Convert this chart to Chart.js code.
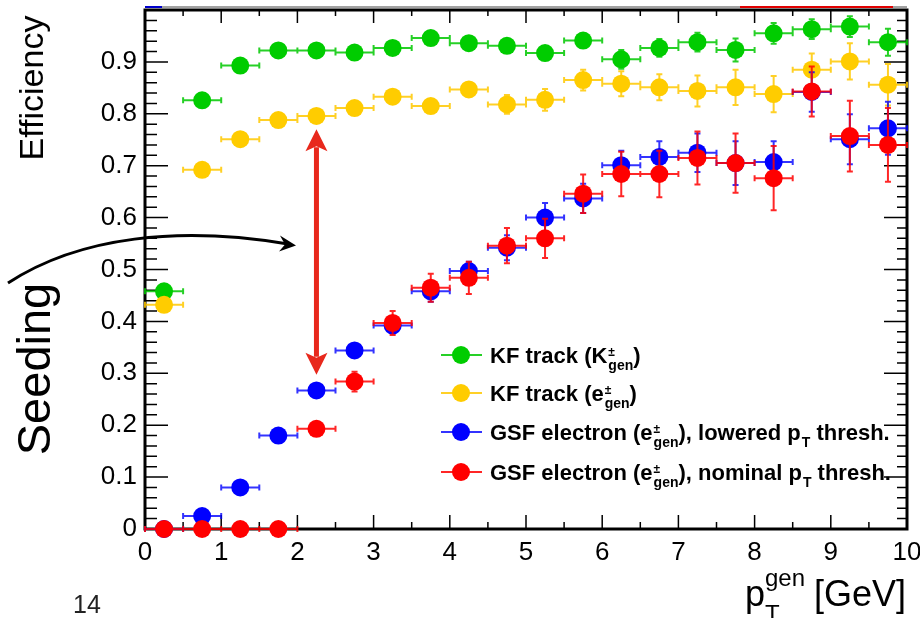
<!DOCTYPE html>
<html>
<head>
<meta charset="utf-8">
<title>Seeding efficiency</title>
<script src="https://cdn.jsdelivr.net/npm/chart.js@4.4.1/dist/chart.umd.min.js"></script>
<style>
  html, body { margin: 0; padding: 0; background: #fff; }
  #wrap { width: 920px; height: 618px; }
</style>
</head>
<body>
<div id="wrap"><canvas id="chartSeeding" width="920" height="618"></canvas></div>
<script>
// pT bins (GeV): centres and half width
const binCenters = [0.25, 0.75, 1.25, 1.75, 2.25, 2.75, 3.25, 3.75, 4.25, 4.75,
                    5.25, 5.75, 6.25, 6.75, 7.25, 7.75, 8.25, 8.75, 9.25, 9.75];
const binHalfWidth = 0.25;

// KF track, kaons
const kfKaon    = [0.458, 0.826, 0.893, 0.922, 0.922, 0.918, 0.927, 0.946, 0.936, 0.931,
                   0.917, 0.941, 0.905, 0.927, 0.938, 0.923, 0.955, 0.963, 0.968, 0.938];
const kfKaonErr = [0.004, 0.003, 0.003, 0.003, 0.003, 0.003, 0.004, 0.005, 0.006, 0.008,
                   0.010, 0.010, 0.018, 0.017, 0.018, 0.022, 0.020, 0.019, 0.020, 0.026];

// KF track, electrons
const kfElec    = [0.432, 0.692, 0.751, 0.788, 0.796, 0.811, 0.833, 0.815, 0.847, 0.818,
                   0.827, 0.865, 0.858, 0.851, 0.844, 0.851, 0.838, 0.885, 0.901, 0.856];
const kfElecErr = [0.004, 0.004, 0.004, 0.005, 0.005, 0.006, 0.007, 0.009, 0.012, 0.018,
                   0.021, 0.020, 0.024, 0.025, 0.030, 0.034, 0.035, 0.031, 0.035, 0.040];

// GSF electron, lowered pT threshold
const gsfLow    = [0.000, 0.025, 0.080, 0.180, 0.267, 0.344, 0.392, 0.458, 0.497, 0.542,
                   0.600, 0.637, 0.701, 0.717, 0.725, 0.705, 0.707, 0.842, 0.751, 0.772];
const gsfLowErr = [0.000, 0.004, 0.006, 0.008, 0.010, 0.012, 0.015, 0.020, 0.018, 0.024,
                   0.028, 0.028, 0.028, 0.030, 0.037, 0.042, 0.040, 0.038, 0.048, 0.051];

// GSF electron, nominal pT threshold
const gsfNom    = [0.000, 0.000, 0.000, 0.000, 0.193, 0.284, 0.397, 0.465, 0.484, 0.546,
                   0.560, 0.646, 0.684, 0.684, 0.715, 0.705, 0.676, 0.843, 0.757, 0.740];
const gsfNomErr = [0.000, 0.000, 0.000, 0.000, 0.008, 0.019, 0.023, 0.027, 0.031, 0.034,
                   0.038, 0.037, 0.043, 0.045, 0.051, 0.057, 0.062, 0.048, 0.068, 0.071];

// axis ticks
const xMajorTicks = [0, 1, 2, 3, 4, 5, 6, 7, 8, 9, 10];
const yMajorTicks = [0, 0.1, 0.2, 0.3, 0.4, 0.5, 0.6, 0.7, 0.8, 0.9];

// legend labels: plain strings, {sup, sub} for the particle index
const legendLabels = [
  ['KF track (K', { sup: '±', sub: 'gen' }, ')'],
  ['KF track (e', { sup: '±', sub: 'gen' }, ')'],
  ['GSF electron (e', { sup: '±', sub: 'gen' }, '), lowered p', { sub: 'T' }, ' thresh.'],
  ['GSF electron (e', { sup: '±', sub: 'gen' }, '), nominal p', { sub: 'T' }, ' thresh.']
];

// arrow showing the gain at 2.25 GeV
const gapArrowX = 2.25;
const gapArrowTop = 0.770;
const gapArrowBottom = 0.297;

const FONT = '"Liberation Sans", Arial, Helvetica, sans-serif';
const colors = ['#00cc00', '#ffcc00', '#0000ff', '#ff0000'];
const barColors = ['rgba(0,200,0,0.85)', 'rgba(255,200,0,0.85)', 'rgba(0,0,255,0.8)', 'rgba(255,0,0,0.85)'];
const errors = [kfKaonErr, kfElecErr, gsfLowErr, gsfNomErr];

function toPoints(values) {
  return binCenters.map((x, i) => ({ x: x, y: values[i] }));
}

function makeSet(values, idx, order) {
  return {
    data: toPoints(values),
    backgroundColor: colors[idx],
    borderColor: colors[idx],
    pointRadius: 9,
    pointHoverRadius: 9,
    pointBorderWidth: 0,
    showLine: false,
    clip: false,
    order: order,
    errIndex: idx
  };
}

// writes a label made of plain text and stacked sup/sub pieces
function drawRich(ctx, x, y, parts, size, weight) {
  const small = Math.round(size * 0.62);
  parts.forEach(p => {
    if (typeof p === 'string') {
      ctx.font = weight + ' ' + size + 'px ' + FONT;
      ctx.fillText(p, x, y);
      x += ctx.measureText(p).width;
    } else {
      let w = 0;
      if (p.sup) {
        ctx.font = weight + ' ' + Math.round(small * 0.85) + 'px ' + FONT;
        ctx.fillText(p.sup, x + 1, y - size * 0.33);
        w = Math.max(w, ctx.measureText(p.sup).width + 1);
      }
      if (p.sub) {
        ctx.font = weight + ' ' + small + 'px ' + FONT;
        ctx.fillText(p.sub, x + 1, y + size * 0.3);
        w = Math.max(w, ctx.measureText(p.sub).width + 1);
      }
      x += w;
    }
  });
  return x;
}

// ROOT style frame with inward ticks on all four sides
const framePlugin = {
  id: 'framePlugin',
  beforeDatasetsDraw(chart) {
    const { ctx, chartArea: a, scales } = chart;
    const xs = scales.x, ys = scales.y;
    ctx.save();
    ctx.strokeStyle = '#000';
    ctx.lineWidth = 1.5;
    ctx.beginPath();
    for (let v = 0; v <= 10.001; v += 0.5) {
      const px = xs.getPixelForValue(v);
      const major = Math.abs(v - Math.round(v)) < 1e-6;
      ctx.moveTo(px, a.bottom); ctx.lineTo(px, a.bottom - (major ? 14 : 7));
      ctx.moveTo(px, a.top); ctx.lineTo(px, a.top + (major ? 13 : 6));
    }
    for (let k = 0; k <= 50; k++) {
      const v = k * 0.02;
      const py = ys.getPixelForValue(v);
      const major = k % 5 === 0;
      ctx.moveTo(a.left, py); ctx.lineTo(a.left + (major ? 23 : 12), py);
      ctx.moveTo(a.right, py); ctx.lineTo(a.right - (major ? 23 : 10), py);
    }
    ctx.stroke();
    ctx.lineWidth = 3;
    ctx.strokeRect(a.left, a.top, a.right - a.left, a.bottom - a.top);

    // thin rule above the frame
    ctx.lineWidth = 1;
    ctx.strokeStyle = '#444';
    ctx.beginPath();
    ctx.moveTo(a.left, a.top - 3); ctx.lineTo(a.right, a.top - 3);
    ctx.stroke();
    ctx.lineWidth = 2;
    ctx.strokeStyle = '#e00000';
    ctx.beginPath();
    ctx.moveTo(740, a.top - 3); ctx.lineTo(893, a.top - 3);
    ctx.stroke();
    ctx.strokeStyle = '#0000cc';
    ctx.beginPath();
    ctx.moveTo(a.left, a.top - 3); ctx.lineTo(a.left + 17, a.top - 3);
    ctx.stroke();
    ctx.restore();
  }
};

// x (bin width) and y (stat.) error bars, drawn just before each graph's markers
const errorBarPlugin = {
  id: 'errorBarPlugin',
  beforeDatasetDraw(chart, args) {
    const ds = chart.data.datasets[args.index];
    const errs = errors[ds.errIndex];
    const { ctx, scales } = chart;
    const xs = scales.x, ys = scales.y;
    ctx.save();
    ctx.strokeStyle = barColors[ds.errIndex];
    ctx.lineWidth = 2;
    ctx.beginPath();
    ds.data.forEach((p, i) => {
      const cx = xs.getPixelForValue(p.x);
      const cy = ys.getPixelForValue(p.y);
      const x0 = xs.getPixelForValue(p.x - binHalfWidth);
      const x1 = xs.getPixelForValue(p.x + binHalfWidth);
      ctx.moveTo(x0, cy); ctx.lineTo(x1, cy);
      ctx.moveTo(x0, cy - 3); ctx.lineTo(x0, cy + 3);
      ctx.moveTo(x1, cy - 3); ctx.lineTo(x1, cy + 3);
      if (errs[i] > 0) {
        const y0 = ys.getPixelForValue(Math.max(0, p.y - errs[i]));
        const y1 = ys.getPixelForValue(p.y + errs[i]);
        ctx.moveTo(cx, y0); ctx.lineTo(cx, y1);
        ctx.moveTo(cx - 3, y0); ctx.lineTo(cx + 3, y0);
        ctx.moveTo(cx - 3, y1); ctx.lineTo(cx + 3, y1);
      }
    });
    ctx.stroke();
    ctx.restore();
  }
};

// arrows, titles and legend
const overlayPlugin = {
  id: 'overlayPlugin',
  afterDraw(chart) {
    const { ctx, scales } = chart;
    const xs = scales.x, ys = scales.y;
    ctx.save();

    // red double arrow between KF and GSF efficiency
    const ax = xs.getPixelForValue(gapArrowX);
    const aTop = ys.getPixelForValue(gapArrowTop);
    const aBot = ys.getPixelForValue(gapArrowBottom);
    ctx.strokeStyle = '#e8281c';
    ctx.fillStyle = '#e8281c';
    ctx.lineWidth = 5;
    ctx.beginPath();
    ctx.moveTo(ax, aTop + 18); ctx.lineTo(ax, aBot - 18);
    ctx.stroke();
    ctx.beginPath();
    ctx.moveTo(ax, aTop); ctx.lineTo(ax - 11, aTop + 22); ctx.lineTo(ax, aTop + 17); ctx.lineTo(ax + 11, aTop + 22);
    ctx.closePath(); ctx.fill();
    ctx.beginPath();
    ctx.moveTo(ax, aBot); ctx.lineTo(ax - 11, aBot - 22); ctx.lineTo(ax, aBot - 17); ctx.lineTo(ax + 11, aBot - 22);
    ctx.closePath(); ctx.fill();

    // black curved arrow from the side label into the plot
    ctx.strokeStyle = '#000';
    ctx.fillStyle = '#000';
    ctx.lineWidth = 3;
    ctx.beginPath();
    ctx.moveTo(8, 283);
    ctx.bezierCurveTo(80, 236, 180, 226, 288, 244);
    ctx.stroke();
    ctx.beginPath();
    ctx.moveTo(296, 245.5); ctx.lineTo(280, 235.5); ctx.lineTo(285, 244.5); ctx.lineTo(279, 251.5);
    ctx.closePath(); ctx.fill();

    // side labels
    ctx.fillStyle = '#000';
    ctx.textAlign = 'center';
    ctx.textBaseline = 'alphabetic';
    ctx.save();
    ctx.translate(43, 88);
    ctx.rotate(-Math.PI / 2);
    ctx.font = '34px ' + FONT;
    ctx.fillText('Efficiency', 0, 0);
    ctx.restore();
    ctx.save();
    ctx.translate(50, 369);
    ctx.rotate(-Math.PI / 2);
    ctx.font = '47px ' + FONT;
    ctx.fillText('Seeding', 0, 0);
    ctx.restore();

    // x axis title
    ctx.textAlign = 'left';
    ctx.font = '36px ' + FONT;
    ctx.fillText('p', 745, 606);
    const pw = ctx.measureText('p').width;
    ctx.font = '24px ' + FONT;
    ctx.fillText('T', 745 + pw, 622);
    ctx.fillText('gen', 745 + pw, 586);
    ctx.font = '36px ' + FONT;
    ctx.fillText('[GeV]', 814, 606);

    // page number
    ctx.fillStyle = '#222';
    ctx.font = '25px ' + FONT;
    ctx.fillText('14', 73, 613);

    // legend
    const rowY = [355, 393, 432, 472];
    legendLabels.forEach((parts, i) => {
      const y = rowY[i];
      ctx.strokeStyle = barColors[i];
      ctx.lineWidth = 2;
      ctx.beginPath();
      ctx.moveTo(441, y); ctx.lineTo(482, y);
      ctx.stroke();
      ctx.fillStyle = colors[i];
      ctx.beginPath();
      ctx.arc(461, y, 9, 0, Math.PI * 2);
      ctx.fill();
      ctx.fillStyle = '#000';
      drawRich(ctx, 490, y + 8, parts, 22, 'bold');
    });
    ctx.restore();
  }
};

const seedingChart = new Chart(document.getElementById('chartSeeding').getContext('2d'), {
  type: 'scatter',
  data: {
    datasets: [
      makeSet(kfKaon, 0, 4),
      makeSet(kfElec, 1, 3),
      makeSet(gsfLow, 2, 2),
      makeSet(gsfNom, 3, 1)
    ]
  },
  options: {
    responsive: false,
    animation: false,
    events: [],
    layout: { padding: { top: 10, right: 13, left: 0, bottom: 0 } },
    plugins: { legend: { display: false }, tooltip: { enabled: false } },
    scales: {
      x: {
        type: 'linear', min: 0, max: 10,
        afterBuildTicks: s => { s.ticks = xMajorTicks.map(v => ({ value: v })); },
        afterFit: s => { s.height = 89; s.paddingLeft = 0; s.paddingRight = 0; },
        grid: { display: false, drawTicks: false },
        border: { display: false },
        ticks: { color: '#000', padding: 8, maxRotation: 0, autoSkip: false,
                 font: { family: FONT, size: 26 }, callback: v => String(v) }
      },
      y: {
        type: 'linear', min: 0, max: 1,
        afterBuildTicks: s => { s.ticks = yMajorTicks.map(v => ({ value: v })); },
        afterFit: s => { s.width = 145; s.paddingTop = 0; s.paddingBottom = 0; },
        grid: { display: false, drawTicks: false },
        border: { display: false },
        ticks: { color: '#000', padding: 8, autoSkip: false,
                 font: { family: FONT, size: 26 },
                 callback: v => (v === 0 ? '0' : v.toFixed(1)) }
      }
    }
  },
  plugins: [framePlugin, errorBarPlugin, overlayPlugin]
});
</script>
</body>
</html>
